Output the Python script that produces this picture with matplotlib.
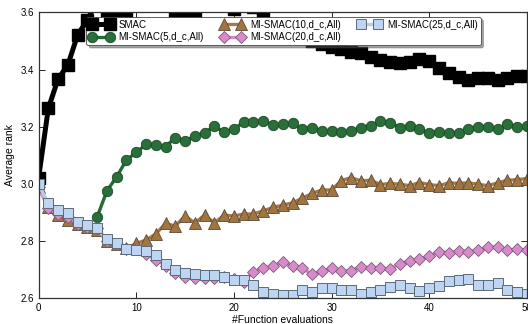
import matplotlib
matplotlib.use("Agg")
import matplotlib.pyplot as plt
import numpy as np

nan = np.nan
evals = list(range(51))

smac = [3.02, 3.264, 3.367, 3.416, 3.521, 3.573, 3.64, 3.604, 3.604, 3.604,
        3.64, 3.64, 3.64, 3.64, 3.604, 3.604, 3.604, 3.64, 3.64, 3.64,
        3.61, 3.64, 3.62, 3.58, 3.56, 3.54, 3.52, 3.51, 3.50, 3.49,
        3.48, 3.471, 3.462, 3.457, 3.445, 3.433, 3.427, 3.422, 3.427, 3.436,
        3.431, 3.404, 3.387, 3.375, 3.365, 3.372, 3.369, 3.363, 3.372, 3.377,
        3.378]
mi5 = [nan] * 6 + [2.885, 2.976, 3.025, 3.084,
       3.110, 3.138, 3.136, 3.130, 3.162, 3.151, 3.167, 3.179, 3.202, 3.180,
       3.191, 3.217, 3.217, 3.220, 3.207, 3.208, 3.212, 3.191, 3.197, 3.186,
       3.186, 3.180, 3.186, 3.197, 3.204, 3.220, 3.214, 3.197, 3.203, 3.192,
       3.177, 3.183, 3.177, 3.177, 3.191, 3.200, 3.200, 3.191, 3.209, 3.200,
       3.202]
mi10 = [2.99, 2.92, 2.89, 2.875, 2.86, 2.85, 2.84, 2.80, 2.79, 2.775,
        2.792, 2.804, 2.825, 2.862, 2.853, 2.888, 2.864, 2.891, 2.864, 2.891,
        2.888, 2.895, 2.895, 2.906, 2.918, 2.926, 2.934, 2.950, 2.967, 2.979,
        2.979, 3.012, 3.022, 3.011, 3.013, 2.998, 3.002, 2.999, 2.994, 3.005,
        2.998, 2.994, 3.004, 3.002, 3.004, 2.999, 2.994, 3.004, 3.013, 3.015,
        3.019]
mi20 = [2.99, 2.915, 2.895, 2.885, 2.86, 2.848, 2.845, 2.80, 2.79, 2.772,
        2.772, 2.755, 2.735, 2.715, 2.69, 2.675, 2.670, 2.672, 2.670, 2.675,
        2.667, 2.658, 2.693, 2.705, 2.713, 2.728, 2.715, 2.705, 2.684, 2.695,
        2.705, 2.695, 2.697, 2.711, 2.707, 2.705, 2.702, 2.722, 2.731, 2.737,
        2.748, 2.763, 2.759, 2.766, 2.763, 2.769, 2.778, 2.780, 2.769, 2.771,
        2.769]
mi25 = [2.999, 2.932, 2.909, 2.899, 2.868, 2.856, 2.847, 2.806, 2.794, 2.773,
        2.769, 2.765, 2.751, 2.722, 2.699, 2.690, 2.684, 2.681, 2.681, 2.676,
        2.664, 2.664, 2.647, 2.623, 2.615, 2.612, 2.612, 2.629, 2.623, 2.638,
        2.635, 2.629, 2.631, 2.615, 2.621, 2.631, 2.640, 2.646, 2.638, 2.627,
        2.635, 2.645, 2.662, 2.664, 2.667, 2.646, 2.646, 2.653, 2.629, 2.623,
        2.617]

labels = ["SMAC", "MI-SMAC(5,d_c,All)", "MI-SMAC(10,d_c,All)",
          "MI-SMAC(20,d_c,All)", "MI-SMAC(25,d_c,All)"]

plt.rcParams['font.family'] = ['Liberation Sans', 'DejaVu Sans']

fig = plt.figure(figsize=(5.28, 3.24), dpi=100)
ax = fig.add_axes([0.073, 0.079, 0.925, 0.883])

ax.plot(evals, smac, color="black", lw=3.6, marker="s", ms=8,
        mfc="black", mec="black", label=labels[0])
ax.plot(evals, mi5, color="#256b35", lw=2.4, marker="o", ms=7.5,
        mfc="#2a6e3a", mec="#1b4a26", mew=0.6, label=labels[1])
ax.plot(evals, mi10, color="#a57a48", lw=2.4, marker="^", ms=8,
        mfc="#a2753f", mec="#5a4a3a", mew=0.6, label=labels[2])
ax.plot(evals, mi20, color="#d48cc6", lw=2.4, marker="D", ms=6.5,
        mfc="#d88bca", mec="#7d5a78", mew=0.6, label=labels[3])
ax.plot(evals, mi25, color="#b4cfee", lw=2.4, marker="s", ms=7.5,
        mfc="#bdd5f2", mec="#5d6a78", mew=0.7, label=labels[4])

ax.set_xlim(0, 50)
ax.set_ylim(2.6, 3.6)
ax.set_xticks([0, 10, 20, 30, 40, 50])
ax.set_yticks([2.6, 2.8, 3.0, 3.2, 3.4, 3.6])
ax.tick_params(direction="in", top=True, right=True, labelsize=7, length=4,
               width=0.6, pad=3)
for s in ax.spines.values():
    s.set_linewidth(0.9)
    s.set_color("#333333")
ax.set_xlabel("#Function evaluations", fontsize=7.5, labelpad=2)
ax.set_ylabel("Average rank", fontsize=7.5, labelpad=4)

leg = ax.legend(loc="upper center", bbox_to_anchor=(0.5015, 0.984), ncol=3,
                numpoints=2, fontsize=7, fancybox=True, shadow=True,
                handlelength=2.4, columnspacing=1.75, borderpad=0.3,
                labelspacing=0.25, handletextpad=0.6, framealpha=1,
                borderaxespad=0)
leg.get_frame().set_edgecolor("#444444")
leg.get_frame().set_linewidth(0.6)

plt.savefig("out.png", dpi=100)
